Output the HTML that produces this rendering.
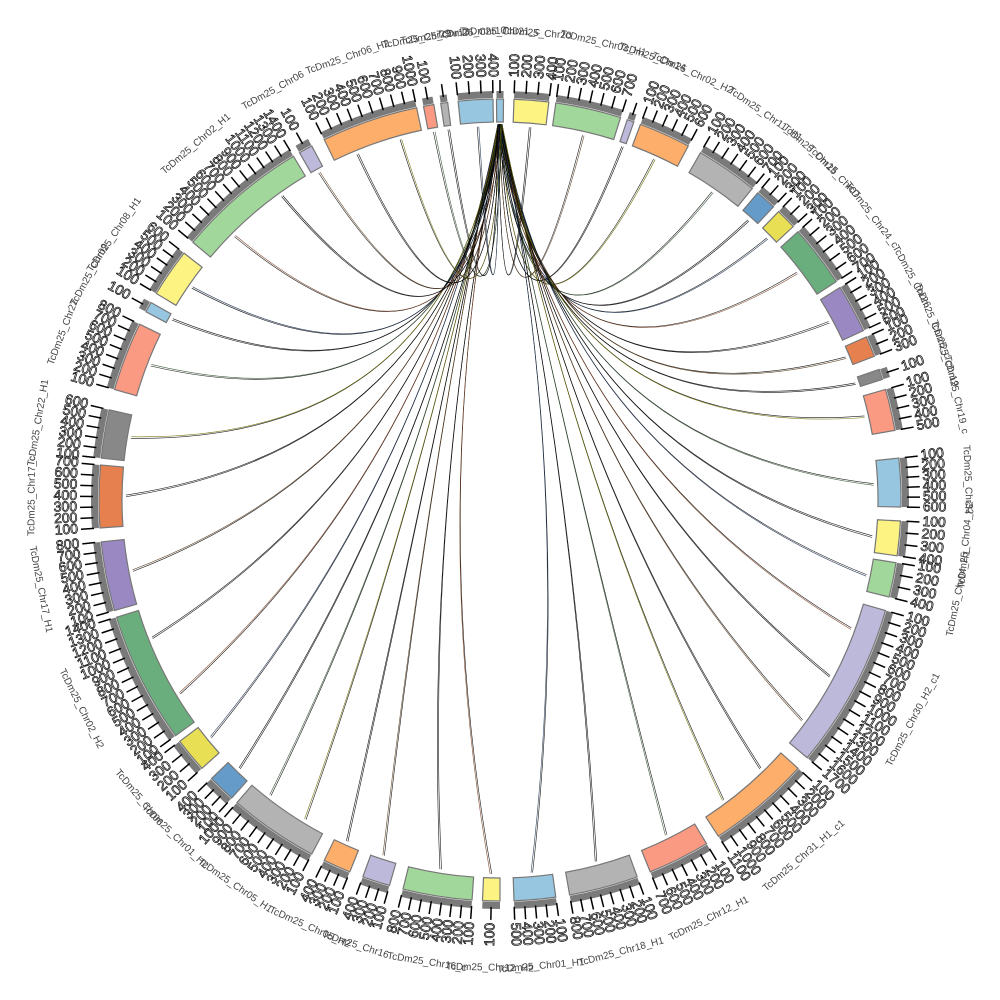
<!DOCTYPE html>
<html><head><meta charset="utf-8">
<style>html,body{margin:0;padding:0;background:#fff;width:1000px;height:1000px;overflow:hidden}</style>
</head><body>
<svg id="s" width="1000" height="1000" xmlns="http://www.w3.org/2000/svg"></svg>
<script>
var C=[500,500],R0=378,R1=401;
var segs=[
[-0.5,0.5,'#97c6e0','TcDm25_Chr21_c'],
[2,7,'#fdf383','TcDm25_Chr20'],
[8,17.5,'#a2d79b','TcDm25_Chr03_H1'],
[18.5,19.5,'#bcb9da','TcDm25_Chr14'],
[20.5,28,'#fdae6b','TcDm25_Chr02_H2'],
[30,39,'#b3b3b3','TcDm25_Chr11_H1'],
[40,43,'#659bc9','TcDm25_Chr15'],
[44,47,'#e8df55','TcDm25_Chr07'],
[48,57,'#6bae7d','TcDm25_Chr24_c'],
[58,65,'#9a88c3','TcDm25_Chr26'],
[66,69,'#e6814f','TcDm25_Chr25_c'],
[71,72.5,'#888888','TcDm25_Chr19'],
[74,80,'#fa9a82','TcDm25_Chr19_c'],
[84,91,'#97c6e0','TcDm25_Chr32'],
[93,98,'#fdf383','TcDm25_Chr04_H2'],
[99,104,'#a2d79b','TcDm25_Chr04_H1'],
[106,130,'#bcb9da','TcDm25_Chr30_H2_c1'],
[132,147,'#fdae6b','TcDm25_Chr31_H1_c1'],
[149,158,'#fa9a82','TcDm25_Chr12_H1'],
[160,170,'#b3b3b3','TcDm25_Chr18_H1'],
[172,178,'#97c6e0','TcDm25_Chr01_H1'],
[180,182.5,'#fdf383','TcDm25_Chr12_H2'],
[184,194,'#a2d79b','TcDm25_Chr16_c'],
[196,200,'#bcb9da','TcDm25_Chr16'],
[202,206,'#fdae6b','TcDm25_Chr05_H2'],
[208,221,'#b3b3b3','TcDm25_Chr05_H1'],
[222,226,'#659bc9','TcDm25_Chr01_H2'],
[228,233,'#e8df55','TcDm25_Chr06'],
[234,253,'#6bae7d','TcDm25_Chr02_H2'],
[254,264,'#9a88c3','TcDm25_Chr17_H1'],
[266,275,'#e6814f','TcDm25_Chr17_c'],
[276,283,'#888888','TcDm25_Chr22_H1'],
[286,296,'#fa9a82','TcDm25_Chr22'],
[298,299.5,'#97c6e0','TcDm25_Chr09'],
[301,308,'#fdf383','TcDm25_Chr08_H1'],
[310,329,'#a2d79b','TcDm25_Chr02_H1'],
[330,332,'#bcb9da','TcDm25_Chr06'],
[334,348,'#fdae6b','TcDm25_Chr06_H2'],
[349,350.5,'#fa9a82','TcDm25_Chr29'],
[351.5,352.5,'#b3b3b3','TcDm25_Chr13'],
[354,359,'#97c6e0','TcDm25_Chr10']
];
function P(a,r){var t=a*Math.PI/180;return [C[0]+r*Math.sin(t),C[1]-r*Math.cos(t)];}
var h='';
var cols=['#000','#5a3a1a','#000','#6b6b00','#2f4f2f','#000','#1c3050','#7a3b1b'];
var k=0;
segs.forEach(function(s,i){
 if(i==0)return;
 var n=Math.max(1,Math.round((s[1]-s[0])/8));
 for(var j=0;j<n;j++){
  var a=s[0]+(s[1]-s[0])*(j+0.5)/n;
  var st=P((k%5-2)*0.15,R0-2);
  var d=a>180?a-360:a; var mid=d/2;
  var cp=P(mid,R0*0.2);
  for(var m=0;m<2;m++){
   var c=m==0?'#000':cols[(k++)%cols.length];
   var ee=P(a+m*0.25,R0-4);
   h+='<path d="M'+st[0].toFixed(1)+','+st[1].toFixed(1)+' Q'+cp[0].toFixed(1)+','+cp[1].toFixed(1)+' '+ee[0].toFixed(1)+','+ee[1].toFixed(1)+'" fill="none" stroke="'+c+'" stroke-width="0.6" stroke-opacity="0.9"/>';
  }
 }
});
segs.forEach(function(s,i){
 var a0=s[0],a1=s[1];
 var p1=P(a0,R0),p2=P(a0,R1),p3=P(a1,R1),p4=P(a1,R0);
 h+='<path d="M'+p1+' L'+p2+' A'+R1+','+R1+' 0 0 1 '+p3+' L'+p4+' A'+R0+','+R0+' 0 0 0 '+p1+'Z" fill="'+s[2]+'" stroke="#777" stroke-width="1.2"/>';
 var g1=P(a0,R1+1),g2=P(a0,R1+8),g3=P(a1,R1+8),g4=P(a1,R1+1);
 h+='<path d="M'+g1+' L'+g2+' A'+(R1+8)+','+(R1+8)+' 0 0 1 '+g3+' L'+g4+' A'+(R1+1)+','+(R1+1)+' 0 0 0 '+g1+'Z" fill="#7a7a7a"/>';
 var small=(a1-a0<3);
 var nt=small?0:Math.max(1,Math.round((a1-a0)/1.5));
 for(var j=0;j<=nt;j++){
  var a=small?(a0+a1)/2:a0+(a1-a0)*j/nt;
  var t1=P(a,R1+6),t2=P(a,R1+19);
  h+='<line x1="'+t1[0]+'" y1="'+t1[1]+'" x2="'+t2[0]+'" y2="'+t2[1]+'" stroke="#000" stroke-width="1.5"/>';
  if(a1-a0>=1.5){
   var tp=P(a,R1+22);var rot=a-90;var anc='start';
   if(a>180){rot=a+90;anc='end';}
   h+='<text x="'+tp[0]+'" y="'+tp[1]+'" transform="rotate('+rot+' '+tp[0]+' '+tp[1]+')" font-family="Liberation Sans,sans-serif" font-size="14" fill="#fff" stroke="#000" stroke-width="0.7" text-anchor="'+anc+'" dominant-baseline="middle">'+((j+1)*100)+'</text>';
  }
 }
 var am=(a0+a1)/2;var lp=P(am,468);var r2=am;if(am>90&&am<270)r2=am+180;
 h+='<text x="'+lp[0]+'" y="'+lp[1]+'" transform="rotate('+r2+' '+lp[0]+' '+lp[1]+')" font-family="Liberation Sans,sans-serif" font-size="10" fill="#444" text-anchor="middle" dominant-baseline="middle">'+s[3]+'</text>';
});
document.getElementById('s').innerHTML=h;
</script>
</body></html>
